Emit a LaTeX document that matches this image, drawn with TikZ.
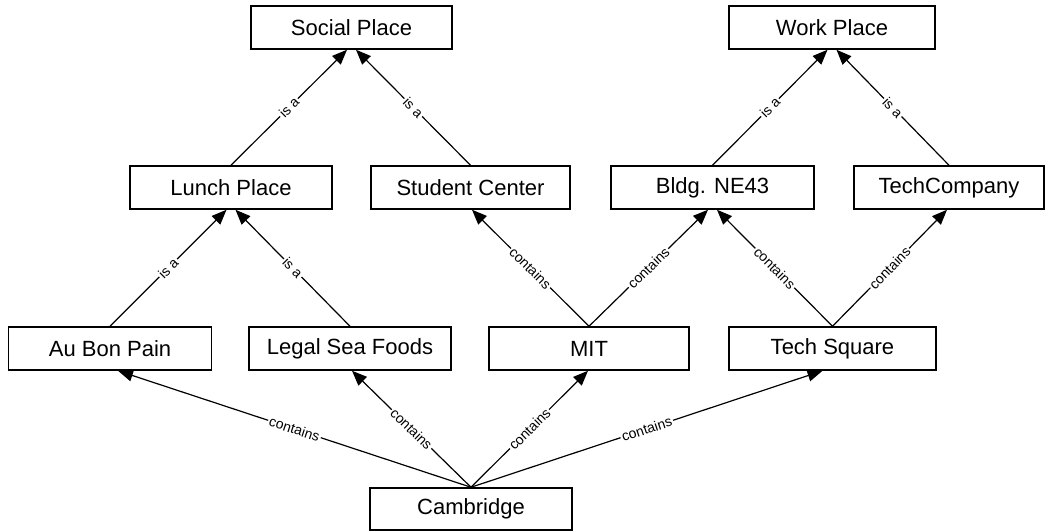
\documentclass[tikz,border=0pt]{standalone}
\usepackage{fontspec}
\setmainfont{Liberation Sans}
\usetikzlibrary{arrows.meta}
\begin{document}
\begin{tikzpicture}[x=1pt,y=-1pt,
  box/.style={draw=black, line width=1.5pt, minimum height=43pt, inner sep=0pt, font=\fontsize{22}{26}\selectfont},
  link/.style={line width=1.2pt, -{Triangle[length=15pt,width=12pt]}},
  lab/.style={sloped, midway, fill=white, inner sep=1.5pt, font=\fontsize{14}{16}\selectfont}]
\useasboundingbox (0,0) rectangle (1050,531);
% top row
\node[box, minimum width=201pt] (social) at (351.5,27.5) {Social Place};
\node[box, minimum width=206pt] (work) at (832,27.5) {Work Place};
% second row
\node[box, minimum width=202pt] (lunch) at (231,187.5) {Lunch Place};
\node[box, minimum width=199pt] (student) at (470.5,187.5) {Student Center};
\node[box, minimum width=203pt] (bldg) at (712.5,187.5) {Bldg. NE43};
\node[box, minimum width=190pt] (techco) at (949,187.5) {TechCompany};
% third row
\node[box, minimum width=203pt] (aubon) at (110,348.5) {Au Bon Pain};
\node[box, minimum width=202pt] (legal) at (350,348.5) {Legal Sea Foods};
\node[box, minimum width=200pt] (mit) at (589,348.5) {MIT};
\node[box, minimum width=207pt] (techsq) at (832.5,348.5) {Tech Square};
% bottom
\node[box, minimum width=202pt, minimum height=42pt] (cam) at (471,509) {Cambridge};
% is-a links
\draw[link] (lunch.north) -- ([xshift=-4.5pt]social.south) node[lab] {is a};
\draw[link] (student.north) -- ([xshift=4.5pt]social.south) node[lab] {is a};
\draw[link] (bldg.north) -- ([xshift=-4.5pt]work.south) node[lab] {is a};
\draw[link] (techco.north) -- ([xshift=4.5pt]work.south) node[lab] {is a};
\draw[link] (aubon.north) -- ([xshift=-4.5pt]lunch.south) node[lab] {is a};
\draw[link] (legal.north) -- ([xshift=4.5pt]lunch.south) node[lab] {is a};
% contains links
\draw[link] (mit.north) -- ([xshift=1.5pt]student.south) node[lab] {contains};
\draw[link] (mit.north) -- ([xshift=-4.5pt]bldg.south) node[lab] {contains};
\draw[link] (techsq.north) -- ([xshift=4.5pt]bldg.south) node[lab] {contains};
\draw[link] (techsq.north) -- ([xshift=-2pt]techco.south) node[lab] {contains};
\draw[link] (cam.north) -- ([xshift=8pt]aubon.south) node[lab] {contains};
\draw[link] (cam.north) -- ([xshift=2pt]legal.south) node[lab] {contains};
\draw[link] (cam.north) -- ([xshift=-1pt]mit.south) node[lab] {contains};
\draw[link] (cam.north) -- ([xshift=-10pt]techsq.south) node[lab] {contains};
\end{tikzpicture}
\end{document}
